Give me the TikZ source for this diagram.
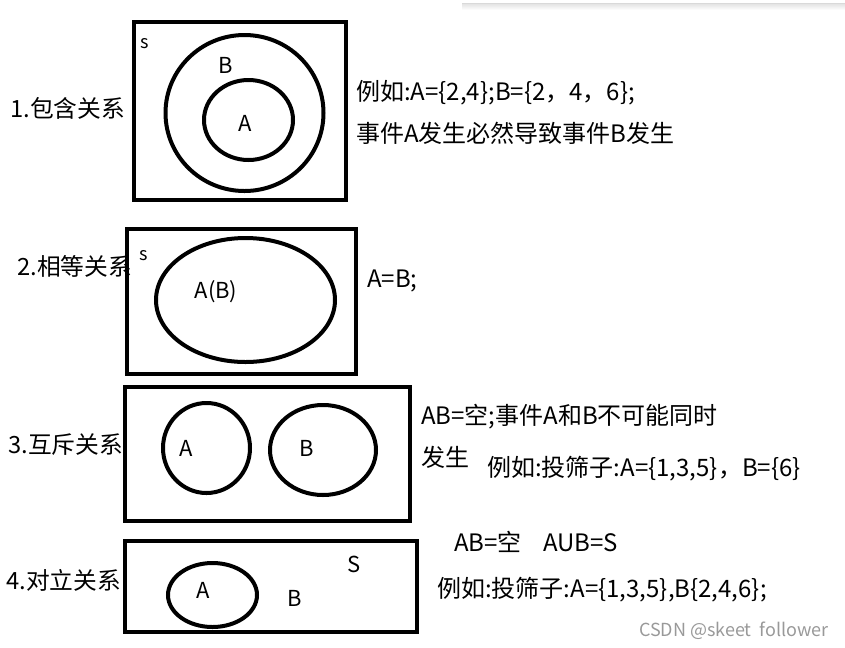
\documentclass[tikz,border=0pt]{standalone}
\usepackage{fontspec}
\setmainfont{Noto Sans CJK SC}
\begin{document}
\begin{tikzpicture}[x=0.75pt,y=-0.75pt,
  frame/.style={draw=black,line width=3pt},
  venn/.style={draw=black,line width=3pt},
  lbl/.style={inner sep=0pt,anchor=west,font=\fontsize{17.8pt}{20pt}\selectfont},
  txt/.style={inner sep=0pt,anchor=west,font=\fontsize{18pt}{21pt}\selectfont},
  setl/.style={inner sep=0pt,font=\fontsize{16.5pt}{19pt}\selectfont},
  small/.style={inner sep=0pt,font=\fontsize{13.5pt}{15pt}\selectfont},
  wmark/.style={inner sep=0pt,anchor=east,font=\fontsize{13.5pt}{15pt}\selectfont,text=black!40}]
\useasboundingbox (0,0) rectangle (845,647);
% faint shadow at top
\shade[top color=black!12,bottom color=white] (462,3) rectangle (845,10);
\draw[black!15,line width=0.6pt] (462,3) -- (845,3);

% 1 inclusion
\draw[frame] (134,22) rectangle (346,200);
\draw[venn] (244.5,113) ellipse [x radius=79,y radius=78];
\draw[venn] (248.5,120) ellipse [x radius=44.5,y radius=40];
\node[small] (s1) at (145,44) {s};
\node[setl] (b1) at (226,65) {B};
\node[setl] (a1) at (245,123) {A};
\node[lbl] (l1) at (10,108) {1.包含关系};
\node[txt] (t1a) at (356,93) {例如:A=\{2,4\};B=\{2，4，6\};};
\node[txt] (t1b) at (356,133) {事件A发生必然导致事件B发生};

% 2 equality
\draw[frame] (127,229) rectangle (356,374);
\draw[venn] (245.5,300) ellipse [x radius=89.5,y radius=62];
\node[small] (s2) at (144,256) {s};
\node[setl] (ab2) at (216,292) {A(B)};
\node[lbl] (l2) at (17,266) {2.相等关系};
\node[txt] (t2) at (367,281) {A=B;};

% 3 mutually exclusive
\draw[frame] (125,387) rectangle (410,521);
\draw[venn] (206.5,448) ellipse [x radius=43.5,y radius=45];
\draw[venn] (323,450) ellipse [x radius=53,y radius=45];
\node[setl] (a3) at (186,448) {A};
\node[setl] (b3) at (307,448) {B};
\node[lbl] (l3) at (8,445) {3.互斥关系};
\node[txt] (t3a) at (421,417) {AB=空;事件A和B不可能同时};
\node[txt] (t3b) at (421,457) {发生};
\node[txt] (t3c) at (487,469) {例如:投筛子:A=\{1,3,5\}，B=\{6\}};

% 4 complementary
\draw[frame] (125,541) rectangle (417,632);
\draw[venn] (212.5,595) ellipse [x radius=44.5,y radius=32];
\node[setl] (a4) at (203,590) {A};
\node[setl] (b4) at (295,598) {B};
\node[setl] (s4) at (354,564) {S};
\node[lbl] (l4) at (6,580) {4.对立关系};
\node[txt] (t4a) at (454,542) {AB=空\hspace{16pt}AUB=S};
\node[txt] (t4b) at (437,590) {例如:投筛子:A=\{1,3,5\},B\{2,4,6\};};

\node[wmark] (wm) at (829,631) {CSDN @skeet\ \ follower};
\end{tikzpicture}
\end{document}
